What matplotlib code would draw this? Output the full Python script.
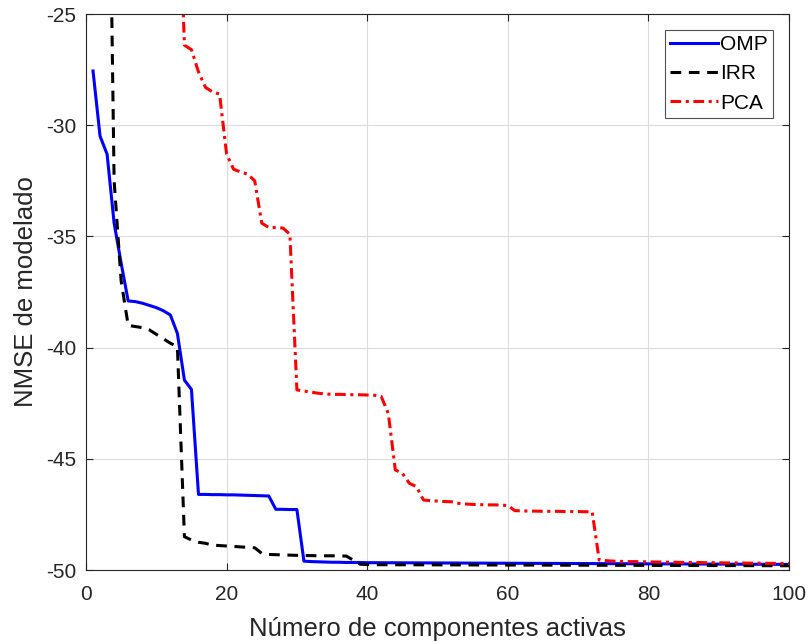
import matplotlib
matplotlib.use("Agg")
import matplotlib.pyplot as plt
import numpy as np

plt.rcParams['font.family'] = ['Liberation Sans', 'DejaVu Sans']
plt.rcParams['axes.unicode_minus'] = False

x_omp = list(range(1, 101))
omp_head = [-27.56, -30.49, -31.3, -34.4, -36.2, -37.9, -37.93, -38.0, -38.1, -38.2,
            -38.34, -38.53, -39.36, -41.46, -41.88, -46.6, -46.6, -46.61, -46.61, -46.62,
            -46.62, -46.63, -46.64, -46.65, -46.66, -46.67, -47.27, -47.27, -47.28, -47.28,
            -49.6, -49.62, -49.63, -49.64, -49.65, -49.65, -49.66, -49.66, -49.66, -49.67]
omp_tail = [-49.67 - 0.0013 * i for i in range(60)]
omp = omp_head + omp_tail

irr_head = [-5.0, -8.0, -10.0, -32.5, -37.0, -39.0, -39.05, -39.1, -39.2, -39.4,
            -39.6, -39.8, -39.95, -48.5, -48.65, -48.75, -48.8, -48.88, -48.9, -48.92,
            -48.94, -48.96, -48.98, -49.0, -49.25, -49.3, -49.31, -49.32, -49.33, -49.34,
            -49.35, -49.35, -49.36, -49.36, -49.36, -49.37, -49.37, -49.55, -49.74, -49.75]
irr_tail = [-49.76 - 0.0008 * i for i in range(60)]
irr = irr_head + irr_tail

pca = [-3.0, -5.0, -6.5, -8.0, -9.0, -10.0, -11.0, -12.0, -13.0, -14.0,
       -15.0, -16.0, -17.5, -26.4, -26.6, -27.6, -28.3, -28.5, -28.6, -31.3,
       -31.98, -32.1, -32.2, -32.5, -34.4, -34.6, -34.6, -34.62, -34.9, -41.9,
       -41.95, -42.0, -42.05, -42.08, -42.1, -42.1, -42.11, -42.12, -42.12, -42.13,
       -42.14, -42.2, -42.96, -45.5, -45.65, -46.1, -46.25, -46.85, -46.88, -46.9,
       -46.92, -46.93, -47.0, -47.03, -47.05, -47.06, -47.07, -47.07, -47.08, -47.1,
       -47.33, -47.34, -47.35, -47.35, -47.36, -47.36, -47.36, -47.37, -47.37, -47.37,
       -47.38, -47.38, -49.55, -49.58, -49.6, -49.61, -49.62, -49.62, -49.63, -49.63,
       -49.64, -49.64, -49.65, -49.65, -49.66, -49.66, -49.66, -49.67, -49.67, -49.67,
       -49.68, -49.68, -49.68, -49.69, -49.69, -49.69, -49.7, -49.7, -49.7, -49.7]

xticks = [0, 20, 40, 60, 80, 100]
yticks = [-50, -45, -40, -35, -30, -25]

fig = plt.figure(figsize=(8.09, 6.42), dpi=100)
ax = fig.add_axes([0.1063, 0.1121, 0.869, 0.866])

ax.plot(x_omp, omp, color='#0000ff', lw=2.2, ls='-', label='OMP')
ax.plot(x_omp, irr, color='black', lw=2.2, ls=(0, (3.5, 2.5)), label='IRR')
ax.plot(x_omp, pca, color='#ff0000', lw=2.2, ls=(0, (3.5, 1.5, 1, 1.5)), label='PCA')

ax.set_xlim(0, 100)
ax.set_ylim(-50, -25)
ax.set_xticks(xticks)
ax.set_yticks(yticks)
ax.grid(True, color='#dcdcdc', lw=0.8)
ax.set_axisbelow(True)
ax.tick_params(direction='in', length=5, width=0.8, labelsize=15, top=True, right=True,
               colors='#262626', labelcolor='#262626')
ax.tick_params(axis='x', pad=11)
ax.tick_params(axis='y', pad=7)
for s in ax.spines.values():
    s.set_color('#262626')
    s.set_linewidth(0.8)

ax.set_xlabel('Número de componentes activas', fontsize=18.5, color='#262626', labelpad=9)
ax.set_ylabel('NMSE de modelado', fontsize=18.5, color='#262626', labelpad=6)

leg = ax.legend(loc='upper right', fontsize=15, frameon=True, fancybox=False,
                edgecolor='#262626', handlelength=2.3, handletextpad=0.1,
                borderpad=0.25, labelspacing=0.5, borderaxespad=0.75)
leg.get_frame().set_linewidth(0.8)

fig.savefig('out.png', dpi=100)
